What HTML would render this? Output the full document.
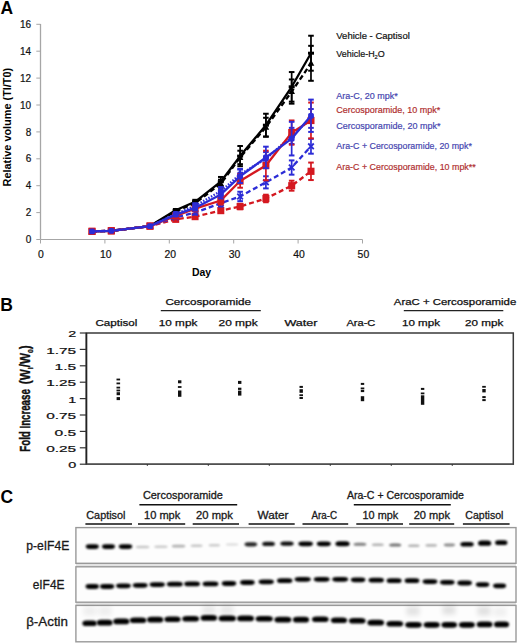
<!DOCTYPE html>
<html><head><meta charset="utf-8"><style>
html,body{margin:0;padding:0;background:#fff;}
svg{display:block;font-family:'Liberation Sans', sans-serif;}
</style></head><body>
<svg width="520" height="644" viewBox="0 0 520 644">
<rect width="520" height="644" fill="#fff"/>
<text x="0.6" y="13.6" font-size="17.5" font-weight="bold" fill="#000" textLength="12.6" lengthAdjust="spacingAndGlyphs">A</text>
<line x1="40.50" y1="24.00" x2="40.50" y2="239.50" stroke="#a6a6a6" stroke-width="1.3"/>
<line x1="40.50" y1="239.50" x2="362.50" y2="239.50" stroke="#a6a6a6" stroke-width="1.2"/>
<line x1="36.30" y1="239.50" x2="40.50" y2="239.50" stroke="#a6a6a6" stroke-width="1"/>
<text x="31.2" y="243.1" font-size="10" text-anchor="end" fill="#111" stroke="#111" stroke-width="0.2">0</text>
<line x1="36.30" y1="212.60" x2="40.50" y2="212.60" stroke="#a6a6a6" stroke-width="1"/>
<text x="31.2" y="216.2" font-size="10" text-anchor="end" fill="#111" stroke="#111" stroke-width="0.2">2</text>
<line x1="36.30" y1="185.70" x2="40.50" y2="185.70" stroke="#a6a6a6" stroke-width="1"/>
<text x="31.2" y="189.3" font-size="10" text-anchor="end" fill="#111" stroke="#111" stroke-width="0.2">4</text>
<line x1="36.30" y1="158.80" x2="40.50" y2="158.80" stroke="#a6a6a6" stroke-width="1"/>
<text x="31.2" y="162.4" font-size="10" text-anchor="end" fill="#111" stroke="#111" stroke-width="0.2">6</text>
<line x1="36.30" y1="131.90" x2="40.50" y2="131.90" stroke="#a6a6a6" stroke-width="1"/>
<text x="31.2" y="135.5" font-size="10" text-anchor="end" fill="#111" stroke="#111" stroke-width="0.2">8</text>
<line x1="36.30" y1="105.00" x2="40.50" y2="105.00" stroke="#a6a6a6" stroke-width="1"/>
<text x="31.2" y="108.6" font-size="10" text-anchor="end" fill="#111" stroke="#111" stroke-width="0.2">10</text>
<line x1="36.30" y1="78.10" x2="40.50" y2="78.10" stroke="#a6a6a6" stroke-width="1"/>
<text x="31.2" y="81.7" font-size="10" text-anchor="end" fill="#111" stroke="#111" stroke-width="0.2">12</text>
<line x1="36.30" y1="51.20" x2="40.50" y2="51.20" stroke="#a6a6a6" stroke-width="1"/>
<text x="31.2" y="54.8" font-size="10" text-anchor="end" fill="#111" stroke="#111" stroke-width="0.2">14</text>
<line x1="36.30" y1="24.30" x2="40.50" y2="24.30" stroke="#a6a6a6" stroke-width="1"/>
<text x="31.2" y="27.9" font-size="10" text-anchor="end" fill="#111" stroke="#111" stroke-width="0.2">16</text>
<line x1="40.50" y1="239.50" x2="40.50" y2="243.50" stroke="#a6a6a6" stroke-width="1"/>
<text x="40.8" y="257.8" font-size="10.4" text-anchor="middle" fill="#111" stroke="#111" stroke-width="0.2">0</text>
<line x1="104.90" y1="239.50" x2="104.90" y2="243.50" stroke="#a6a6a6" stroke-width="1"/>
<text x="105.8" y="257.8" font-size="10.4" text-anchor="middle" fill="#111" stroke="#111" stroke-width="0.2">10</text>
<line x1="169.30" y1="239.50" x2="169.30" y2="243.50" stroke="#a6a6a6" stroke-width="1"/>
<text x="170.2" y="257.8" font-size="10.4" text-anchor="middle" fill="#111" stroke="#111" stroke-width="0.2">20</text>
<line x1="233.70" y1="239.50" x2="233.70" y2="243.50" stroke="#a6a6a6" stroke-width="1"/>
<text x="234.6" y="257.8" font-size="10.4" text-anchor="middle" fill="#111" stroke="#111" stroke-width="0.2">30</text>
<line x1="298.10" y1="239.50" x2="298.10" y2="243.50" stroke="#a6a6a6" stroke-width="1"/>
<text x="299.0" y="257.8" font-size="10.4" text-anchor="middle" fill="#111" stroke="#111" stroke-width="0.2">40</text>
<line x1="362.50" y1="239.50" x2="362.50" y2="243.50" stroke="#a6a6a6" stroke-width="1"/>
<text x="363.4" y="257.8" font-size="10.4" text-anchor="middle" fill="#111" stroke="#111" stroke-width="0.2">50</text>
<text x="192.0" y="275.8" font-size="10.2" font-weight="bold" fill="#000" textLength="19.2" lengthAdjust="spacingAndGlyphs">Day</text>
<text transform="translate(10.6,186.4) rotate(-90)" font-size="10.6" font-weight="bold" textLength="118.6" lengthAdjust="spacingAndGlyphs">Relative volume (Tl/T0)</text>
<text x="336.3" y="38.7" font-size="9.3" fill="#111" textLength="73.5" lengthAdjust="spacingAndGlyphs" stroke="#111" stroke-width="0.2">Vehicle - Captisol</text>
<text x="336.3" y="56.5" font-size="9.3" fill="#111" stroke="#111" stroke-width="0.2" textLength="48.5" lengthAdjust="spacingAndGlyphs">Vehicle-H<tspan font-size="6" dy="2">2</tspan><tspan dy="-2">O</tspan></text>
<text x="336.3" y="99.4" font-size="9.3" fill="#4646b0" textLength="61.5" lengthAdjust="spacingAndGlyphs" stroke="#4646b0" stroke-width="0.2">Ara-C, 20 mpk*</text>
<text x="336.3" y="113.0" font-size="9.3" fill="#b03030" textLength="104.0" lengthAdjust="spacingAndGlyphs" stroke="#b03030" stroke-width="0.2">Cercosporamide, 10 mpk*</text>
<text x="336.3" y="129.1" font-size="9.3" fill="#4646b0" textLength="104.2" lengthAdjust="spacingAndGlyphs" stroke="#4646b0" stroke-width="0.2">Cercosporamide, 20 mpk*</text>
<text x="336.3" y="149.0" font-size="9.3" fill="#4646b0" textLength="135.6" lengthAdjust="spacingAndGlyphs" stroke="#4646b0" stroke-width="0.2">Ara-C + Cercosporamide, 20 mpk*</text>
<text x="336.3" y="170.1" font-size="9.3" fill="#b03030" textLength="139.4" lengthAdjust="spacingAndGlyphs" stroke="#b03030" stroke-width="0.2">Ara-C + Cercosporamide, 10 mpk**</text>
<polyline points="92.0,231.4 111.3,230.8 150.0,226.1 175.7,211.3 195.1,203.2 220.8,183.7 240.1,157.5 265.9,127.2 291.7,91.6 311.0,63.3" fill="none" stroke="#000" stroke-width="2.3" stroke-dasharray="5,3" stroke-linejoin="round"/>
<line x1="175.74" y1="209.91" x2="175.74" y2="212.60" stroke="#000" stroke-width="1.7"/>
<line x1="172.94" y1="209.91" x2="178.54" y2="209.91" stroke="#000" stroke-width="2.0"/>
<line x1="172.94" y1="212.60" x2="178.54" y2="212.60" stroke="#000" stroke-width="2.0"/>
<line x1="195.06" y1="201.17" x2="195.06" y2="205.20" stroke="#000" stroke-width="1.7"/>
<line x1="192.26" y1="201.17" x2="197.86" y2="201.17" stroke="#000" stroke-width="2.0"/>
<line x1="192.26" y1="205.20" x2="197.86" y2="205.20" stroke="#000" stroke-width="2.0"/>
<line x1="220.82" y1="179.65" x2="220.82" y2="187.72" stroke="#000" stroke-width="1.7"/>
<line x1="218.02" y1="179.65" x2="223.62" y2="179.65" stroke="#000" stroke-width="2.0"/>
<line x1="218.02" y1="187.72" x2="223.62" y2="187.72" stroke="#000" stroke-width="2.0"/>
<line x1="240.14" y1="150.73" x2="240.14" y2="164.18" stroke="#000" stroke-width="1.7"/>
<line x1="237.34" y1="150.73" x2="242.94" y2="150.73" stroke="#000" stroke-width="2.0"/>
<line x1="237.34" y1="164.18" x2="242.94" y2="164.18" stroke="#000" stroke-width="2.0"/>
<line x1="265.90" y1="117.78" x2="265.90" y2="136.61" stroke="#000" stroke-width="1.7"/>
<line x1="263.10" y1="117.78" x2="268.70" y2="117.78" stroke="#000" stroke-width="2.0"/>
<line x1="263.10" y1="136.61" x2="268.70" y2="136.61" stroke="#000" stroke-width="2.0"/>
<line x1="291.66" y1="79.44" x2="291.66" y2="103.66" stroke="#000" stroke-width="1.7"/>
<line x1="288.86" y1="79.44" x2="294.46" y2="79.44" stroke="#000" stroke-width="2.0"/>
<line x1="288.86" y1="103.66" x2="294.46" y2="103.66" stroke="#000" stroke-width="2.0"/>
<line x1="310.98" y1="45.82" x2="310.98" y2="80.79" stroke="#000" stroke-width="1.7"/>
<line x1="308.18" y1="45.82" x2="313.78" y2="45.82" stroke="#000" stroke-width="2.0"/>
<line x1="308.18" y1="80.79" x2="313.78" y2="80.79" stroke="#000" stroke-width="2.0"/>
<path d="M92.0,227.9L95.3,233.9L88.7,233.9Z" fill="#000"/>
<path d="M111.3,227.3L114.6,233.3L108.0,233.3Z" fill="#000"/>
<path d="M150.0,222.6L153.3,228.6L146.7,228.6Z" fill="#000"/>
<path d="M175.7,207.8L179.0,213.8L172.4,213.8Z" fill="#000"/>
<path d="M195.1,199.7L198.4,205.7L191.8,205.7Z" fill="#000"/>
<path d="M220.8,180.2L224.1,186.2L217.5,186.2Z" fill="#000"/>
<path d="M240.1,154.0L243.4,160.0L236.8,160.0Z" fill="#000"/>
<path d="M265.9,123.7L269.2,129.7L262.6,129.7Z" fill="#000"/>
<path d="M291.7,88.1L295.0,94.1L288.4,94.1Z" fill="#000"/>
<path d="M311.0,59.8L314.3,65.8L307.7,65.8Z" fill="#000"/>
<polyline points="92.0,231.4 111.3,230.8 150.0,226.1 175.7,210.3 195.1,201.8 220.8,181.7 240.1,156.1 265.9,125.2 291.7,86.8 311.0,53.2" fill="none" stroke="#000" stroke-width="2.3" stroke-linejoin="round"/>
<line x1="175.74" y1="208.97" x2="175.74" y2="211.66" stroke="#000" stroke-width="1.7"/>
<line x1="172.94" y1="208.97" x2="178.54" y2="208.97" stroke="#000" stroke-width="2.0"/>
<line x1="172.94" y1="211.66" x2="178.54" y2="211.66" stroke="#000" stroke-width="2.0"/>
<line x1="195.06" y1="199.82" x2="195.06" y2="203.86" stroke="#000" stroke-width="1.7"/>
<line x1="192.26" y1="199.82" x2="197.86" y2="199.82" stroke="#000" stroke-width="2.0"/>
<line x1="192.26" y1="203.86" x2="197.86" y2="203.86" stroke="#000" stroke-width="2.0"/>
<line x1="220.82" y1="176.96" x2="220.82" y2="186.37" stroke="#000" stroke-width="1.7"/>
<line x1="218.02" y1="176.96" x2="223.62" y2="176.96" stroke="#000" stroke-width="2.0"/>
<line x1="218.02" y1="186.37" x2="223.62" y2="186.37" stroke="#000" stroke-width="2.0"/>
<line x1="240.14" y1="146.02" x2="240.14" y2="166.20" stroke="#000" stroke-width="1.7"/>
<line x1="237.34" y1="146.02" x2="242.94" y2="146.02" stroke="#000" stroke-width="2.0"/>
<line x1="237.34" y1="166.20" x2="242.94" y2="166.20" stroke="#000" stroke-width="2.0"/>
<line x1="265.90" y1="113.74" x2="265.90" y2="136.61" stroke="#000" stroke-width="1.7"/>
<line x1="263.10" y1="113.74" x2="268.70" y2="113.74" stroke="#000" stroke-width="2.0"/>
<line x1="263.10" y1="136.61" x2="268.70" y2="136.61" stroke="#000" stroke-width="2.0"/>
<line x1="291.66" y1="72.05" x2="291.66" y2="101.64" stroke="#000" stroke-width="1.7"/>
<line x1="288.86" y1="72.05" x2="294.46" y2="72.05" stroke="#000" stroke-width="2.0"/>
<line x1="288.86" y1="101.64" x2="294.46" y2="101.64" stroke="#000" stroke-width="2.0"/>
<line x1="310.98" y1="35.73" x2="310.98" y2="70.70" stroke="#000" stroke-width="1.7"/>
<line x1="308.18" y1="35.73" x2="313.78" y2="35.73" stroke="#000" stroke-width="2.0"/>
<line x1="308.18" y1="70.70" x2="313.78" y2="70.70" stroke="#000" stroke-width="2.0"/>
<rect x="89.0" y="229.9" width="6" height="3" fill="#000"/>
<rect x="108.3" y="229.3" width="6" height="3" fill="#000"/>
<rect x="147.0" y="224.6" width="6" height="3" fill="#000"/>
<rect x="172.7" y="208.8" width="6" height="3" fill="#000"/>
<rect x="192.1" y="200.3" width="6" height="3" fill="#000"/>
<rect x="217.8" y="180.2" width="6" height="3" fill="#000"/>
<rect x="237.1" y="154.6" width="6" height="3" fill="#000"/>
<rect x="262.9" y="123.7" width="6" height="3" fill="#000"/>
<rect x="288.7" y="85.3" width="6" height="3" fill="#000"/>
<rect x="308.0" y="51.7" width="6" height="3" fill="#000"/>
<polyline points="92.0,231.4 111.3,230.8 150.0,226.1 175.7,219.3 195.1,216.6 220.8,210.6 240.1,206.5 265.9,198.5 291.7,185.7 311.0,171.3" fill="none" stroke="#d41820" stroke-width="2.3" stroke-dasharray="5,3" stroke-linejoin="round"/>
<line x1="175.74" y1="217.98" x2="175.74" y2="220.67" stroke="#d41820" stroke-width="1.7"/>
<line x1="172.94" y1="217.98" x2="178.54" y2="217.98" stroke="#d41820" stroke-width="2.0"/>
<line x1="172.94" y1="220.67" x2="178.54" y2="220.67" stroke="#d41820" stroke-width="2.0"/>
<line x1="195.06" y1="215.29" x2="195.06" y2="217.98" stroke="#d41820" stroke-width="1.7"/>
<line x1="192.26" y1="215.29" x2="197.86" y2="215.29" stroke="#d41820" stroke-width="2.0"/>
<line x1="192.26" y1="217.98" x2="197.86" y2="217.98" stroke="#d41820" stroke-width="2.0"/>
<line x1="220.82" y1="208.56" x2="220.82" y2="212.60" stroke="#d41820" stroke-width="1.7"/>
<line x1="218.02" y1="208.56" x2="223.62" y2="208.56" stroke="#d41820" stroke-width="2.0"/>
<line x1="218.02" y1="212.60" x2="223.62" y2="212.60" stroke="#d41820" stroke-width="2.0"/>
<line x1="240.14" y1="203.86" x2="240.14" y2="209.24" stroke="#d41820" stroke-width="1.7"/>
<line x1="237.34" y1="203.86" x2="242.94" y2="203.86" stroke="#d41820" stroke-width="2.0"/>
<line x1="237.34" y1="209.24" x2="242.94" y2="209.24" stroke="#d41820" stroke-width="2.0"/>
<line x1="265.90" y1="194.71" x2="265.90" y2="202.24" stroke="#d41820" stroke-width="1.7"/>
<line x1="263.10" y1="194.71" x2="268.70" y2="194.71" stroke="#d41820" stroke-width="2.0"/>
<line x1="263.10" y1="202.24" x2="268.70" y2="202.24" stroke="#d41820" stroke-width="2.0"/>
<line x1="291.66" y1="180.72" x2="291.66" y2="190.68" stroke="#d41820" stroke-width="1.7"/>
<line x1="288.86" y1="180.72" x2="294.46" y2="180.72" stroke="#d41820" stroke-width="2.0"/>
<line x1="288.86" y1="190.68" x2="294.46" y2="190.68" stroke="#d41820" stroke-width="2.0"/>
<line x1="310.98" y1="162.57" x2="310.98" y2="180.05" stroke="#d41820" stroke-width="1.7"/>
<line x1="308.18" y1="162.57" x2="313.78" y2="162.57" stroke="#d41820" stroke-width="2.0"/>
<line x1="308.18" y1="180.05" x2="313.78" y2="180.05" stroke="#d41820" stroke-width="2.0"/>
<rect x="88.5" y="227.8" width="7" height="7.2" fill="#d41820"/>
<rect x="107.8" y="227.2" width="7" height="7.2" fill="#d41820"/>
<rect x="146.5" y="222.5" width="7" height="7.2" fill="#d41820"/>
<rect x="172.2" y="215.7" width="7" height="7.2" fill="#d41820"/>
<rect x="191.6" y="213.0" width="7" height="7.2" fill="#d41820"/>
<rect x="217.3" y="207.0" width="7" height="7.2" fill="#d41820"/>
<rect x="236.6" y="202.9" width="7" height="7.2" fill="#d41820"/>
<rect x="262.4" y="194.9" width="7" height="7.2" fill="#d41820"/>
<rect x="288.2" y="182.1" width="7" height="7.2" fill="#d41820"/>
<rect x="307.5" y="167.7" width="7" height="7.2" fill="#d41820"/>
<polyline points="92.0,231.4 111.3,230.8 150.0,226.1 175.7,217.3 195.1,212.6 220.8,203.2 240.1,196.5 265.9,182.3 291.7,167.5 311.0,146.3" fill="none" stroke="#2c2cd6" stroke-width="2.3" stroke-dasharray="5,3" stroke-linejoin="round"/>
<line x1="175.74" y1="215.96" x2="175.74" y2="218.65" stroke="#2c2cd6" stroke-width="1.7"/>
<line x1="172.94" y1="215.96" x2="178.54" y2="215.96" stroke="#2c2cd6" stroke-width="2.0"/>
<line x1="172.94" y1="218.65" x2="178.54" y2="218.65" stroke="#2c2cd6" stroke-width="2.0"/>
<line x1="195.06" y1="210.58" x2="195.06" y2="214.62" stroke="#2c2cd6" stroke-width="1.7"/>
<line x1="192.26" y1="210.58" x2="197.86" y2="210.58" stroke="#2c2cd6" stroke-width="2.0"/>
<line x1="192.26" y1="214.62" x2="197.86" y2="214.62" stroke="#2c2cd6" stroke-width="2.0"/>
<line x1="220.82" y1="199.82" x2="220.82" y2="206.55" stroke="#2c2cd6" stroke-width="1.7"/>
<line x1="218.02" y1="199.82" x2="223.62" y2="199.82" stroke="#2c2cd6" stroke-width="2.0"/>
<line x1="218.02" y1="206.55" x2="223.62" y2="206.55" stroke="#2c2cd6" stroke-width="2.0"/>
<line x1="240.14" y1="191.75" x2="240.14" y2="201.17" stroke="#2c2cd6" stroke-width="1.7"/>
<line x1="237.34" y1="191.75" x2="242.94" y2="191.75" stroke="#2c2cd6" stroke-width="2.0"/>
<line x1="237.34" y1="201.17" x2="242.94" y2="201.17" stroke="#2c2cd6" stroke-width="2.0"/>
<line x1="265.90" y1="176.28" x2="265.90" y2="188.39" stroke="#2c2cd6" stroke-width="1.7"/>
<line x1="263.10" y1="176.28" x2="268.70" y2="176.28" stroke="#2c2cd6" stroke-width="2.0"/>
<line x1="263.10" y1="188.39" x2="268.70" y2="188.39" stroke="#2c2cd6" stroke-width="2.0"/>
<line x1="291.66" y1="160.41" x2="291.66" y2="174.67" stroke="#2c2cd6" stroke-width="1.7"/>
<line x1="288.86" y1="160.41" x2="294.46" y2="160.41" stroke="#2c2cd6" stroke-width="2.0"/>
<line x1="288.86" y1="174.67" x2="294.46" y2="174.67" stroke="#2c2cd6" stroke-width="2.0"/>
<line x1="310.98" y1="138.89" x2="310.98" y2="153.69" stroke="#2c2cd6" stroke-width="1.7"/>
<line x1="308.18" y1="138.89" x2="313.78" y2="138.89" stroke="#2c2cd6" stroke-width="2.0"/>
<line x1="308.18" y1="153.69" x2="313.78" y2="153.69" stroke="#2c2cd6" stroke-width="2.0"/>
<path d="M89.2,228.6L94.8,234.2M89.2,234.2L94.8,228.6" stroke="#2c2cd6" stroke-width="1.8"/>
<path d="M108.5,228.0L114.1,233.6M108.5,233.6L114.1,228.0" stroke="#2c2cd6" stroke-width="1.8"/>
<path d="M147.2,223.2L152.8,228.9M147.2,228.9L152.8,223.2" stroke="#2c2cd6" stroke-width="1.8"/>
<path d="M172.9,214.5L178.5,220.1M172.9,220.1L178.5,214.5" stroke="#2c2cd6" stroke-width="1.8"/>
<path d="M192.3,209.8L197.9,215.4M192.3,215.4L197.9,209.8" stroke="#2c2cd6" stroke-width="1.8"/>
<path d="M218.0,200.4L223.6,206.0M218.0,206.0L223.6,200.4" stroke="#2c2cd6" stroke-width="1.8"/>
<path d="M237.3,193.7L242.9,199.3M237.3,199.3L242.9,193.7" stroke="#2c2cd6" stroke-width="1.8"/>
<path d="M263.1,179.5L268.7,185.1M263.1,185.1L268.7,179.5" stroke="#2c2cd6" stroke-width="1.8"/>
<path d="M288.9,164.7L294.5,170.3M288.9,170.3L294.5,164.7" stroke="#2c2cd6" stroke-width="1.8"/>
<path d="M308.2,143.5L313.8,149.1M308.2,149.1L313.8,143.5" stroke="#2c2cd6" stroke-width="1.8"/>
<polyline points="92.0,231.4 111.3,230.8 150.0,226.1 175.7,213.9 195.1,205.9 220.8,191.1 240.1,174.3 265.9,158.8 291.7,135.9 311.0,118.5" fill="none" stroke="#2c2cd6" stroke-width="2.3" stroke-dasharray="1.5,1.5" stroke-linejoin="round"/>
<line x1="175.74" y1="212.60" x2="175.74" y2="215.29" stroke="#2c2cd6" stroke-width="1.7"/>
<line x1="172.94" y1="212.60" x2="178.54" y2="212.60" stroke="#2c2cd6" stroke-width="2.0"/>
<line x1="172.94" y1="215.29" x2="178.54" y2="215.29" stroke="#2c2cd6" stroke-width="2.0"/>
<line x1="195.06" y1="203.19" x2="195.06" y2="208.56" stroke="#2c2cd6" stroke-width="1.7"/>
<line x1="192.26" y1="203.19" x2="197.86" y2="203.19" stroke="#2c2cd6" stroke-width="2.0"/>
<line x1="192.26" y1="208.56" x2="197.86" y2="208.56" stroke="#2c2cd6" stroke-width="2.0"/>
<line x1="220.82" y1="187.05" x2="220.82" y2="195.12" stroke="#2c2cd6" stroke-width="1.7"/>
<line x1="218.02" y1="187.05" x2="223.62" y2="187.05" stroke="#2c2cd6" stroke-width="2.0"/>
<line x1="218.02" y1="195.12" x2="223.62" y2="195.12" stroke="#2c2cd6" stroke-width="2.0"/>
<line x1="240.14" y1="168.89" x2="240.14" y2="179.65" stroke="#2c2cd6" stroke-width="1.7"/>
<line x1="237.34" y1="168.89" x2="242.94" y2="168.89" stroke="#2c2cd6" stroke-width="2.0"/>
<line x1="237.34" y1="179.65" x2="242.94" y2="179.65" stroke="#2c2cd6" stroke-width="2.0"/>
<line x1="265.90" y1="152.07" x2="265.90" y2="165.53" stroke="#2c2cd6" stroke-width="1.7"/>
<line x1="263.10" y1="152.07" x2="268.70" y2="152.07" stroke="#2c2cd6" stroke-width="2.0"/>
<line x1="263.10" y1="165.53" x2="268.70" y2="165.53" stroke="#2c2cd6" stroke-width="2.0"/>
<line x1="291.66" y1="127.86" x2="291.66" y2="144.00" stroke="#2c2cd6" stroke-width="1.7"/>
<line x1="288.86" y1="127.86" x2="294.46" y2="127.86" stroke="#2c2cd6" stroke-width="2.0"/>
<line x1="288.86" y1="144.00" x2="294.46" y2="144.00" stroke="#2c2cd6" stroke-width="2.0"/>
<line x1="310.98" y1="109.04" x2="310.98" y2="127.86" stroke="#2c2cd6" stroke-width="1.7"/>
<line x1="308.18" y1="109.04" x2="313.78" y2="109.04" stroke="#2c2cd6" stroke-width="2.0"/>
<line x1="308.18" y1="127.86" x2="313.78" y2="127.86" stroke="#2c2cd6" stroke-width="2.0"/>
<rect x="89.1" y="228.5" width="5.8" height="5.8" rx="1.6" fill="#2c2cd6"/>
<rect x="108.4" y="227.9" width="5.8" height="5.8" rx="1.6" fill="#2c2cd6"/>
<rect x="147.1" y="223.2" width="5.8" height="5.8" rx="1.6" fill="#2c2cd6"/>
<rect x="172.8" y="211.0" width="5.8" height="5.8" rx="1.6" fill="#2c2cd6"/>
<rect x="192.2" y="203.0" width="5.8" height="5.8" rx="1.6" fill="#2c2cd6"/>
<rect x="217.9" y="188.2" width="5.8" height="5.8" rx="1.6" fill="#2c2cd6"/>
<rect x="237.2" y="171.4" width="5.8" height="5.8" rx="1.6" fill="#2c2cd6"/>
<rect x="263.0" y="155.9" width="5.8" height="5.8" rx="1.6" fill="#2c2cd6"/>
<rect x="288.8" y="133.0" width="5.8" height="5.8" rx="1.6" fill="#2c2cd6"/>
<rect x="308.1" y="115.5" width="5.8" height="5.8" rx="1.6" fill="#2c2cd6"/>
<polyline points="92.0,231.4 111.3,230.8 150.0,226.1 175.7,216.0 195.1,208.6 220.8,200.5 240.1,181.0 265.9,165.5 291.7,132.6 311.0,120.5" fill="none" stroke="#d41820" stroke-width="2.3" stroke-linejoin="round"/>
<line x1="175.74" y1="214.62" x2="175.74" y2="217.31" stroke="#d41820" stroke-width="1.7"/>
<line x1="172.94" y1="214.62" x2="178.54" y2="214.62" stroke="#d41820" stroke-width="2.0"/>
<line x1="172.94" y1="217.31" x2="178.54" y2="217.31" stroke="#d41820" stroke-width="2.0"/>
<line x1="195.06" y1="205.88" x2="195.06" y2="211.25" stroke="#d41820" stroke-width="1.7"/>
<line x1="192.26" y1="205.88" x2="197.86" y2="205.88" stroke="#d41820" stroke-width="2.0"/>
<line x1="192.26" y1="211.25" x2="197.86" y2="211.25" stroke="#d41820" stroke-width="2.0"/>
<line x1="220.82" y1="196.46" x2="220.82" y2="204.53" stroke="#d41820" stroke-width="1.7"/>
<line x1="218.02" y1="196.46" x2="223.62" y2="196.46" stroke="#d41820" stroke-width="2.0"/>
<line x1="218.02" y1="204.53" x2="223.62" y2="204.53" stroke="#d41820" stroke-width="2.0"/>
<line x1="240.14" y1="174.27" x2="240.14" y2="187.72" stroke="#d41820" stroke-width="1.7"/>
<line x1="237.34" y1="174.27" x2="242.94" y2="174.27" stroke="#d41820" stroke-width="2.0"/>
<line x1="237.34" y1="187.72" x2="242.94" y2="187.72" stroke="#d41820" stroke-width="2.0"/>
<line x1="265.90" y1="150.73" x2="265.90" y2="180.32" stroke="#d41820" stroke-width="1.7"/>
<line x1="263.10" y1="150.73" x2="268.70" y2="150.73" stroke="#d41820" stroke-width="2.0"/>
<line x1="263.10" y1="180.32" x2="268.70" y2="180.32" stroke="#d41820" stroke-width="2.0"/>
<line x1="291.66" y1="120.47" x2="291.66" y2="144.68" stroke="#d41820" stroke-width="1.7"/>
<line x1="288.86" y1="120.47" x2="294.46" y2="120.47" stroke="#d41820" stroke-width="2.0"/>
<line x1="288.86" y1="144.68" x2="294.46" y2="144.68" stroke="#d41820" stroke-width="2.0"/>
<line x1="310.98" y1="102.58" x2="310.98" y2="138.36" stroke="#d41820" stroke-width="1.7"/>
<line x1="308.18" y1="102.58" x2="313.78" y2="102.58" stroke="#d41820" stroke-width="2.0"/>
<line x1="308.18" y1="138.36" x2="313.78" y2="138.36" stroke="#d41820" stroke-width="2.0"/>
<rect x="88.5" y="227.8" width="7" height="7.2" fill="#d41820"/>
<rect x="107.8" y="227.2" width="7" height="7.2" fill="#d41820"/>
<rect x="146.5" y="222.5" width="7" height="7.2" fill="#d41820"/>
<rect x="172.2" y="212.4" width="7" height="7.2" fill="#d41820"/>
<rect x="191.6" y="205.0" width="7" height="7.2" fill="#d41820"/>
<rect x="217.3" y="196.9" width="7" height="7.2" fill="#d41820"/>
<rect x="236.6" y="177.4" width="7" height="7.2" fill="#d41820"/>
<rect x="262.4" y="161.9" width="7" height="7.2" fill="#d41820"/>
<rect x="288.2" y="129.0" width="7" height="7.2" fill="#d41820"/>
<rect x="307.5" y="116.9" width="7" height="7.2" fill="#d41820"/>
<polyline points="92.0,231.4 111.3,230.8 150.0,226.1 175.7,214.6 195.1,207.9 220.8,194.4 240.1,176.3 265.9,157.5 291.7,138.6 311.0,115.8" fill="none" stroke="#2c2cd6" stroke-width="2.3" stroke-linejoin="round"/>
<line x1="175.74" y1="213.27" x2="175.74" y2="215.96" stroke="#2c2cd6" stroke-width="1.7"/>
<line x1="172.94" y1="213.27" x2="178.54" y2="213.27" stroke="#2c2cd6" stroke-width="2.0"/>
<line x1="172.94" y1="215.96" x2="178.54" y2="215.96" stroke="#2c2cd6" stroke-width="2.0"/>
<line x1="195.06" y1="205.20" x2="195.06" y2="210.58" stroke="#2c2cd6" stroke-width="1.7"/>
<line x1="192.26" y1="205.20" x2="197.86" y2="205.20" stroke="#2c2cd6" stroke-width="2.0"/>
<line x1="192.26" y1="210.58" x2="197.86" y2="210.58" stroke="#2c2cd6" stroke-width="2.0"/>
<line x1="220.82" y1="190.41" x2="220.82" y2="198.48" stroke="#2c2cd6" stroke-width="1.7"/>
<line x1="218.02" y1="190.41" x2="223.62" y2="190.41" stroke="#2c2cd6" stroke-width="2.0"/>
<line x1="218.02" y1="198.48" x2="223.62" y2="198.48" stroke="#2c2cd6" stroke-width="2.0"/>
<line x1="240.14" y1="169.56" x2="240.14" y2="183.01" stroke="#2c2cd6" stroke-width="1.7"/>
<line x1="237.34" y1="169.56" x2="242.94" y2="169.56" stroke="#2c2cd6" stroke-width="2.0"/>
<line x1="237.34" y1="183.01" x2="242.94" y2="183.01" stroke="#2c2cd6" stroke-width="2.0"/>
<line x1="265.90" y1="146.69" x2="265.90" y2="168.22" stroke="#2c2cd6" stroke-width="1.7"/>
<line x1="263.10" y1="146.69" x2="268.70" y2="146.69" stroke="#2c2cd6" stroke-width="2.0"/>
<line x1="263.10" y1="168.22" x2="268.70" y2="168.22" stroke="#2c2cd6" stroke-width="2.0"/>
<line x1="291.66" y1="121.81" x2="291.66" y2="155.44" stroke="#2c2cd6" stroke-width="1.7"/>
<line x1="288.86" y1="121.81" x2="294.46" y2="121.81" stroke="#2c2cd6" stroke-width="2.0"/>
<line x1="288.86" y1="155.44" x2="294.46" y2="155.44" stroke="#2c2cd6" stroke-width="2.0"/>
<line x1="310.98" y1="99.62" x2="310.98" y2="131.90" stroke="#2c2cd6" stroke-width="1.7"/>
<line x1="308.18" y1="99.62" x2="313.78" y2="99.62" stroke="#2c2cd6" stroke-width="2.0"/>
<line x1="308.18" y1="131.90" x2="313.78" y2="131.90" stroke="#2c2cd6" stroke-width="2.0"/>
<rect x="89.1" y="228.5" width="5.8" height="5.8" rx="1.6" fill="#2c2cd6"/>
<rect x="108.4" y="227.9" width="5.8" height="5.8" rx="1.6" fill="#2c2cd6"/>
<rect x="147.1" y="223.2" width="5.8" height="5.8" rx="1.6" fill="#2c2cd6"/>
<rect x="172.8" y="211.7" width="5.8" height="5.8" rx="1.6" fill="#2c2cd6"/>
<rect x="192.2" y="205.0" width="5.8" height="5.8" rx="1.6" fill="#2c2cd6"/>
<rect x="217.9" y="191.5" width="5.8" height="5.8" rx="1.6" fill="#2c2cd6"/>
<rect x="237.2" y="173.4" width="5.8" height="5.8" rx="1.6" fill="#2c2cd6"/>
<rect x="263.0" y="154.6" width="5.8" height="5.8" rx="1.6" fill="#2c2cd6"/>
<rect x="288.8" y="135.7" width="5.8" height="5.8" rx="1.6" fill="#2c2cd6"/>
<rect x="308.1" y="112.9" width="5.8" height="5.8" rx="1.6" fill="#2c2cd6"/>
<text x="0.3" y="310.8" font-size="17.5" font-weight="bold" fill="#000">B</text>
<rect x="86.4" y="333.0" width="426.9" height="131.2" fill="none" stroke="#3a3a3a" stroke-width="1.5"/>
<line x1="86.40" y1="333.00" x2="86.40" y2="464.20" stroke="#222" stroke-width="1.6"/>
<line x1="86.40" y1="464.20" x2="513.30" y2="464.20" stroke="#555" stroke-width="1.2"/>
<line x1="79.80" y1="464.20" x2="86.40" y2="464.20" stroke="#333" stroke-width="1.2"/>
<text x="76.2" y="468.4" font-size="8.7" text-anchor="end" fill="#111" textLength="8.0" lengthAdjust="spacingAndGlyphs" stroke="#111" stroke-width="0.2">0</text>
<line x1="79.80" y1="447.80" x2="86.40" y2="447.80" stroke="#333" stroke-width="1.2"/>
<text x="76.2" y="452.0" font-size="8.7" text-anchor="end" fill="#111" textLength="30.0" lengthAdjust="spacingAndGlyphs" stroke="#111" stroke-width="0.2">0.25</text>
<line x1="79.80" y1="431.40" x2="86.40" y2="431.40" stroke="#333" stroke-width="1.2"/>
<text x="76.2" y="435.6" font-size="8.7" text-anchor="end" fill="#111" textLength="21.6" lengthAdjust="spacingAndGlyphs" stroke="#111" stroke-width="0.2">0.5</text>
<line x1="79.80" y1="415.00" x2="86.40" y2="415.00" stroke="#333" stroke-width="1.2"/>
<text x="76.2" y="419.2" font-size="8.7" text-anchor="end" fill="#111" textLength="30.0" lengthAdjust="spacingAndGlyphs" stroke="#111" stroke-width="0.2">0.75</text>
<line x1="79.80" y1="398.60" x2="86.40" y2="398.60" stroke="#333" stroke-width="1.2"/>
<text x="76.2" y="402.8" font-size="8.7" text-anchor="end" fill="#111" textLength="8.0" lengthAdjust="spacingAndGlyphs" stroke="#111" stroke-width="0.2">1</text>
<line x1="79.80" y1="382.20" x2="86.40" y2="382.20" stroke="#333" stroke-width="1.2"/>
<text x="76.2" y="386.4" font-size="8.7" text-anchor="end" fill="#111" textLength="30.0" lengthAdjust="spacingAndGlyphs" stroke="#111" stroke-width="0.2">1.25</text>
<line x1="79.80" y1="365.80" x2="86.40" y2="365.80" stroke="#333" stroke-width="1.2"/>
<text x="76.2" y="370.0" font-size="8.7" text-anchor="end" fill="#111" textLength="21.6" lengthAdjust="spacingAndGlyphs" stroke="#111" stroke-width="0.2">1.5</text>
<line x1="79.80" y1="349.40" x2="86.40" y2="349.40" stroke="#333" stroke-width="1.2"/>
<text x="76.2" y="353.6" font-size="8.7" text-anchor="end" fill="#111" textLength="30.0" lengthAdjust="spacingAndGlyphs" stroke="#111" stroke-width="0.2">1.75</text>
<line x1="79.80" y1="333.00" x2="86.40" y2="333.00" stroke="#333" stroke-width="1.2"/>
<text x="76.2" y="337.2" font-size="8.7" text-anchor="end" fill="#111" textLength="8.0" lengthAdjust="spacingAndGlyphs" stroke="#111" stroke-width="0.2">2</text>
<line x1="147.39" y1="464.20" x2="147.39" y2="465.80" stroke="#333" stroke-width="1.2"/>
<line x1="208.37" y1="464.20" x2="208.37" y2="465.80" stroke="#333" stroke-width="1.2"/>
<line x1="269.36" y1="464.20" x2="269.36" y2="465.80" stroke="#333" stroke-width="1.2"/>
<line x1="330.34" y1="464.20" x2="330.34" y2="465.80" stroke="#333" stroke-width="1.2"/>
<line x1="391.33" y1="464.20" x2="391.33" y2="465.80" stroke="#333" stroke-width="1.2"/>
<line x1="452.31" y1="464.20" x2="452.31" y2="465.80" stroke="#333" stroke-width="1.2"/>
<text transform="translate(30.2,451.7) rotate(-90)" font-size="14" font-weight="bold" fill="#111" stroke="#111" stroke-width="0.45" textLength="62.5" lengthAdjust="spacingAndGlyphs">Fold Increase</text>
<text transform="translate(30.2,384.2) rotate(-90)" font-size="14" font-weight="bold" fill="#111" stroke="#111" stroke-width="0.3" textLength="39" lengthAdjust="spacingAndGlyphs">(W<tspan font-size="8" dy="2.5">i</tspan><tspan dy="-2.5">/W</tspan><tspan font-size="8" dy="2.5">0</tspan><tspan dy="-2.5">)</tspan></text>
<text x="95.4" y="325.8" font-size="8.9" fill="#111" textLength="42.0" lengthAdjust="spacingAndGlyphs" stroke="#111" stroke-width="0.25">Captisol</text>
<text x="158.8" y="325.8" font-size="8.9" fill="#111" textLength="38.5" lengthAdjust="spacingAndGlyphs" stroke="#111" stroke-width="0.25">10 mpk</text>
<text x="218.5" y="325.8" font-size="8.9" fill="#111" textLength="39.2" lengthAdjust="spacingAndGlyphs" stroke="#111" stroke-width="0.25">20 mpk</text>
<text x="165.4" y="305.3" font-size="8.9" fill="#111" textLength="85.6" lengthAdjust="spacingAndGlyphs" stroke="#111" stroke-width="0.25">Cercosporamide</text>
<line x1="160.80" y1="310.60" x2="260.80" y2="310.60" stroke="#222" stroke-width="1.3"/>
<text x="284.4" y="325.6" font-size="8.9" fill="#111" textLength="33.0" lengthAdjust="spacingAndGlyphs" stroke="#111" stroke-width="0.25">Water</text>
<text x="346.4" y="325.6" font-size="8.9" fill="#111" textLength="29.0" lengthAdjust="spacingAndGlyphs" stroke="#111" stroke-width="0.25">Ara-C</text>
<text x="393.8" y="305.3" font-size="8.9" fill="#111" textLength="122.5" lengthAdjust="spacingAndGlyphs" stroke="#111" stroke-width="0.25">AraC + Cercosporamide</text>
<line x1="403.80" y1="310.70" x2="503.30" y2="310.70" stroke="#222" stroke-width="1.3"/>
<text x="402.0" y="325.6" font-size="8.9" fill="#111" textLength="38.0" lengthAdjust="spacingAndGlyphs" stroke="#111" stroke-width="0.25">10 mpk</text>
<text x="465.0" y="325.6" font-size="8.9" fill="#111" textLength="38.3" lengthAdjust="spacingAndGlyphs" stroke="#111" stroke-width="0.25">20 mpk</text>
<rect x="116.5" y="378.6" width="3.6" height="1.8" fill="#111"/>
<rect x="116.5" y="382.5" width="3.6" height="1.8" fill="#111"/>
<rect x="116.5" y="386.7" width="3.6" height="1.8" fill="#111"/>
<rect x="116.5" y="389.6" width="3.6" height="1.8" fill="#111"/>
<rect x="116.6" y="392.2" width="3.4" height="3.0" fill="#111"/>
<rect x="116.6" y="397.1" width="3.4" height="3.0" fill="#111"/>
<rect x="178.0" y="380.3" width="3.4" height="3.0" fill="#111"/>
<rect x="177.9" y="386.1" width="3.6" height="1.8" fill="#111"/>
<rect x="178.0" y="390.5" width="3.4" height="6.3" fill="#111"/>
<rect x="238.0" y="380.9" width="3.4" height="3.0" fill="#111"/>
<rect x="238.0" y="387.7" width="3.4" height="2.2" fill="#111"/>
<rect x="238.0" y="390.6" width="3.4" height="5.0" fill="#111"/>
<rect x="299.5" y="385.9" width="3.4" height="2.0" fill="#111"/>
<rect x="299.5" y="389.2" width="3.4" height="3.6" fill="#111"/>
<rect x="299.4" y="394.3" width="3.6" height="1.8" fill="#111"/>
<rect x="299.5" y="397.0" width="3.4" height="2.0" fill="#111"/>
<rect x="360.8" y="382.9" width="3.4" height="2.0" fill="#111"/>
<rect x="360.7" y="387.5" width="3.6" height="1.8" fill="#111"/>
<rect x="360.8" y="389.9" width="3.4" height="2.2" fill="#111"/>
<rect x="360.8" y="396.2" width="3.4" height="5.0" fill="#111"/>
<rect x="420.9" y="387.9" width="3.4" height="2.0" fill="#111"/>
<rect x="420.8" y="392.5" width="3.6" height="1.8" fill="#111"/>
<rect x="420.9" y="395.3" width="3.4" height="9.5" fill="#111"/>
<rect x="482.2" y="385.9" width="3.6" height="1.8" fill="#111"/>
<rect x="482.3" y="389.0" width="3.4" height="3.4" fill="#111"/>
<rect x="482.3" y="396.1" width="3.4" height="2.0" fill="#111"/>
<rect x="482.3" y="399.1" width="3.4" height="2.0" fill="#111"/>
<text x="0.5" y="502.8" font-size="17.5" font-weight="bold" fill="#000">C</text>
<text x="142.9" y="499.4" font-size="10.8" fill="#1a1a1a" textLength="80.0" lengthAdjust="spacingAndGlyphs" stroke="#1a1a1a" stroke-width="0.3">Cercosporamide</text>
<line x1="139.40" y1="504.70" x2="237.20" y2="504.70" stroke="#111" stroke-width="1.6"/>
<text x="346.9" y="499.4" font-size="10.8" fill="#1a1a1a" textLength="117.0" lengthAdjust="spacingAndGlyphs" stroke="#1a1a1a" stroke-width="0.3">Ara-C + Cercosporamide</text>
<line x1="353.80" y1="504.70" x2="450.80" y2="504.70" stroke="#111" stroke-width="1.6"/>
<text x="86.3" y="518.6" font-size="10.6" fill="#1a1a1a" textLength="39.1" lengthAdjust="spacingAndGlyphs" stroke="#1a1a1a" stroke-width="0.3">Captisol</text>
<line x1="85.40" y1="524.00" x2="132.00" y2="524.00" stroke="#111" stroke-width="1.6"/>
<text x="144.0" y="518.6" font-size="10.6" fill="#1a1a1a" textLength="36.3" lengthAdjust="spacingAndGlyphs" stroke="#1a1a1a" stroke-width="0.3">10 mpk</text>
<line x1="138.00" y1="524.00" x2="185.20" y2="524.00" stroke="#111" stroke-width="1.6"/>
<text x="196.0" y="518.6" font-size="10.6" fill="#1a1a1a" textLength="36.9" lengthAdjust="spacingAndGlyphs" stroke="#1a1a1a" stroke-width="0.3">20 mpk</text>
<line x1="192.70" y1="524.00" x2="239.00" y2="524.00" stroke="#111" stroke-width="1.6"/>
<text x="257.5" y="518.6" font-size="10.6" fill="#1a1a1a" textLength="31.0" lengthAdjust="spacingAndGlyphs" stroke="#1a1a1a" stroke-width="0.3">Water</text>
<line x1="248.60" y1="524.00" x2="294.70" y2="524.00" stroke="#111" stroke-width="1.6"/>
<text x="311.4" y="518.6" font-size="10.6" fill="#1a1a1a" textLength="25.6" lengthAdjust="spacingAndGlyphs" stroke="#1a1a1a" stroke-width="0.3">Ara-C</text>
<line x1="302.50" y1="524.00" x2="348.20" y2="524.00" stroke="#111" stroke-width="1.6"/>
<text x="362.5" y="518.6" font-size="10.6" fill="#1a1a1a" textLength="35.7" lengthAdjust="spacingAndGlyphs" stroke="#1a1a1a" stroke-width="0.3">10 mpk</text>
<line x1="356.30" y1="524.00" x2="403.00" y2="524.00" stroke="#111" stroke-width="1.6"/>
<text x="413.7" y="518.6" font-size="10.6" fill="#1a1a1a" textLength="36.3" lengthAdjust="spacingAndGlyphs" stroke="#1a1a1a" stroke-width="0.3">20 mpk</text>
<line x1="409.20" y1="524.00" x2="454.20" y2="524.00" stroke="#111" stroke-width="1.6"/>
<text x="465.3" y="518.6" font-size="10.6" fill="#1a1a1a" textLength="38.1" lengthAdjust="spacingAndGlyphs" stroke="#1a1a1a" stroke-width="0.3">Captisol</text>
<line x1="462.90" y1="524.00" x2="509.60" y2="524.00" stroke="#111" stroke-width="1.6"/>
<text x="26.2" y="550.3" font-size="12.8" fill="#1a1a1a" textLength="43.1" lengthAdjust="spacingAndGlyphs" stroke="#1a1a1a" stroke-width="0.3">p-eIF4E</text>
<text x="32.7" y="589.4" font-size="12.8" fill="#1a1a1a" textLength="31.8" lengthAdjust="spacingAndGlyphs" stroke="#1a1a1a" stroke-width="0.3">eIF4E</text>
<text x="26.2" y="625.6" font-size="12.8" fill="#1a1a1a" textLength="41.8" lengthAdjust="spacingAndGlyphs" stroke="#1a1a1a" stroke-width="0.3">&#946;-Actin</text>
<defs><filter id="bl" x="-30%" y="-100%" width="160%" height="300%"><feGaussianBlur stdDeviation="0.9 0.8"/></filter><filter id="bl2" x="-50%" y="-100%" width="200%" height="300%"><feGaussianBlur stdDeviation="2.5 2.5"/></filter></defs>
<rect x="75.9" y="563.3" width="440.1" height="3.5" fill="#e2e2e2"/>
<rect x="75.9" y="602.2" width="440.1" height="3.2" fill="#e2e2e2"/>
<rect x="75.9" y="527.6" width="440.1" height="35.7" fill="#fdfdfd" stroke="#999" stroke-width="1.4"/>
<rect x="75.9" y="566.8" width="440.1" height="35.4" fill="#fdfdfd" stroke="#999" stroke-width="1.4"/>
<rect x="75.9" y="605.4" width="440.1" height="36.4" fill="#fdfdfd" stroke="#999" stroke-width="1.4"/>
<rect x="83.5" y="606.5" width="13" height="9" fill="#000" opacity="0.06" filter="url(#bl2)"/>
<rect x="98.5" y="606.5" width="13" height="9" fill="#000" opacity="0.06" filter="url(#bl2)"/>
<rect x="202.5" y="605.5" width="13" height="9" fill="#000" opacity="0.08" filter="url(#bl2)"/>
<rect x="220.5" y="605.5" width="13" height="9" fill="#000" opacity="0.08" filter="url(#bl2)"/>
<rect x="406.5" y="606.5" width="13" height="9" fill="#000" opacity="0.1" filter="url(#bl2)"/>
<rect x="442.5" y="605.5" width="13" height="9" fill="#000" opacity="0.11" filter="url(#bl2)"/>
<rect x="477.5" y="606.5" width="13" height="9" fill="#000" opacity="0.11" filter="url(#bl2)"/>
<rect x="493.5" y="607.5" width="13" height="9" fill="#000" opacity="0.05" filter="url(#bl2)"/>
<rect x="85.8" y="544.3" width="13.0" height="4.6" rx="3.6" ry="2.3" fill="#000" opacity="1" filter="url(#bl)"/>
<rect x="102.0" y="544.3" width="13.0" height="4.6" rx="3.6" ry="2.3" fill="#000" opacity="1" filter="url(#bl)"/>
<rect x="118.8" y="544.3" width="13.4" height="4.6" rx="3.8" ry="2.3" fill="#000" opacity="1" filter="url(#bl)"/>
<rect x="135.9" y="545.7" width="13.5" height="2.6" rx="3.8" ry="1.3" fill="#000" opacity="0.22" filter="url(#bl)"/>
<rect x="154.2" y="545.5" width="13.5" height="2.6" rx="3.8" ry="1.3" fill="#000" opacity="0.2" filter="url(#bl)"/>
<rect x="171.8" y="544.8" width="13.5" height="2.8" rx="3.8" ry="1.4" fill="#000" opacity="0.3" filter="url(#bl)"/>
<rect x="190.6" y="544.4" width="12.0" height="2.6" rx="3.4" ry="1.3" fill="#000" opacity="0.22" filter="url(#bl)"/>
<rect x="208.6" y="543.9" width="11.5" height="2.6" rx="3.2" ry="1.3" fill="#000" opacity="0.2" filter="url(#bl)"/>
<rect x="225.8" y="543.3" width="12.5" height="2.4" rx="3.5" ry="1.2" fill="#000" opacity="0.12" filter="url(#bl)"/>
<rect x="244.6" y="542.2" width="12.5" height="4.2" rx="3.5" ry="2.1" fill="#000" opacity="0.85" filter="url(#bl)"/>
<rect x="262.2" y="541.8" width="12.7" height="4.2" rx="3.6" ry="2.1" fill="#000" opacity="0.92" filter="url(#bl)"/>
<rect x="280.4" y="541.4" width="13.2" height="4.4" rx="3.7" ry="2.2" fill="#000" opacity="0.95" filter="url(#bl)"/>
<rect x="298.4" y="541.4" width="14.5" height="4.8" rx="4.1" ry="2.4" fill="#000" opacity="1" filter="url(#bl)"/>
<rect x="316.8" y="541.4" width="14.0" height="4.8" rx="3.9" ry="2.4" fill="#000" opacity="1" filter="url(#bl)"/>
<rect x="335.4" y="541.3" width="14.3" height="5.0" rx="4.0" ry="2.5" fill="#000" opacity="1" filter="url(#bl)"/>
<rect x="353.6" y="542.8" width="12.7" height="3.0" rx="3.6" ry="1.5" fill="#000" opacity="0.5" filter="url(#bl)"/>
<rect x="371.8" y="543.4" width="12.0" height="2.7" rx="3.4" ry="1.4" fill="#000" opacity="0.3" filter="url(#bl)"/>
<rect x="389.2" y="543.5" width="12.0" height="3.0" rx="3.4" ry="1.5" fill="#000" opacity="0.55" filter="url(#bl)"/>
<rect x="408.0" y="544.4" width="11.6" height="2.7" rx="3.2" ry="1.4" fill="#000" opacity="0.3" filter="url(#bl)"/>
<rect x="425.4" y="544.1" width="11.6" height="2.7" rx="3.2" ry="1.4" fill="#000" opacity="0.28" filter="url(#bl)"/>
<rect x="443.8" y="543.5" width="11.2" height="2.9" rx="3.1" ry="1.4" fill="#000" opacity="0.45" filter="url(#bl)"/>
<rect x="460.4" y="542.0" width="13.3" height="4.6" rx="3.7" ry="2.3" fill="#000" opacity="1" filter="url(#bl)"/>
<rect x="478.0" y="540.6" width="13.2" height="5.2" rx="3.7" ry="2.6" fill="#000" opacity="1" filter="url(#bl)"/>
<rect x="495.1" y="540.3" width="12.3" height="4.8" rx="3.4" ry="2.4" fill="#000" opacity="1" filter="url(#bl)"/>
<rect x="85.6" y="584.1" width="13.3" height="4.8" rx="3.7" ry="2.4" fill="#000" opacity="1" filter="url(#bl)"/>
<rect x="100.0" y="584.1" width="14.2" height="4.8" rx="4.0" ry="2.4" fill="#000" opacity="1" filter="url(#bl)"/>
<rect x="116.1" y="583.4" width="14.7" height="4.8" rx="4.1" ry="2.4" fill="#000" opacity="1" filter="url(#bl)"/>
<rect x="132.8" y="582.9" width="14.8" height="4.8" rx="4.1" ry="2.4" fill="#000" opacity="1" filter="url(#bl)"/>
<rect x="149.6" y="582.2" width="15.3" height="4.8" rx="4.3" ry="2.4" fill="#000" opacity="1" filter="url(#bl)"/>
<rect x="166.9" y="581.8" width="15.8" height="4.8" rx="4.4" ry="2.4" fill="#000" opacity="1" filter="url(#bl)"/>
<rect x="184.2" y="581.5" width="15.8" height="4.8" rx="4.4" ry="2.4" fill="#000" opacity="1" filter="url(#bl)"/>
<rect x="202.6" y="581.5" width="15.8" height="4.8" rx="4.4" ry="2.4" fill="#000" opacity="1" filter="url(#bl)"/>
<rect x="221.8" y="581.1" width="14.4" height="4.8" rx="4.0" ry="2.4" fill="#000" opacity="1" filter="url(#bl)"/>
<rect x="240.1" y="580.1" width="14.6" height="4.8" rx="4.1" ry="2.4" fill="#000" opacity="1" filter="url(#bl)"/>
<rect x="258.6" y="579.4" width="15.3" height="4.8" rx="4.3" ry="2.4" fill="#000" opacity="1" filter="url(#bl)"/>
<rect x="277.0" y="578.3" width="15.4" height="4.8" rx="4.3" ry="2.4" fill="#000" opacity="1" filter="url(#bl)"/>
<rect x="294.6" y="576.9" width="16.1" height="4.8" rx="4.5" ry="2.4" fill="#000" opacity="1" filter="url(#bl)"/>
<rect x="313.8" y="576.9" width="15.8" height="4.8" rx="4.4" ry="2.4" fill="#000" opacity="1" filter="url(#bl)"/>
<rect x="332.3" y="576.9" width="15.8" height="4.8" rx="4.4" ry="2.4" fill="#000" opacity="1" filter="url(#bl)"/>
<rect x="350.8" y="577.4" width="14.6" height="4.8" rx="4.1" ry="2.4" fill="#000" opacity="1" filter="url(#bl)"/>
<rect x="368.6" y="577.8" width="15.3" height="4.8" rx="4.3" ry="2.4" fill="#000" opacity="1" filter="url(#bl)"/>
<rect x="386.6" y="578.3" width="15.0" height="4.8" rx="4.2" ry="2.4" fill="#000" opacity="1" filter="url(#bl)"/>
<rect x="404.6" y="578.3" width="14.8" height="4.8" rx="4.1" ry="2.4" fill="#000" opacity="1" filter="url(#bl)"/>
<rect x="422.6" y="579.2" width="14.8" height="4.8" rx="4.1" ry="2.4" fill="#000" opacity="1" filter="url(#bl)"/>
<rect x="440.0" y="579.9" width="14.6" height="4.8" rx="4.1" ry="2.4" fill="#000" opacity="1" filter="url(#bl)"/>
<rect x="457.3" y="580.6" width="14.6" height="4.8" rx="4.1" ry="2.4" fill="#000" opacity="1" filter="url(#bl)"/>
<rect x="475.8" y="582.2" width="13.5" height="4.8" rx="3.8" ry="2.4" fill="#000" opacity="1" filter="url(#bl)"/>
<rect x="493.1" y="583.4" width="13.0" height="4.8" rx="3.6" ry="2.4" fill="#000" opacity="1" filter="url(#bl)"/>
<rect x="82.4" y="620.4" width="14.4" height="5.7" rx="4.0" ry="2.9" fill="#000" opacity="1" filter="url(#bl)"/>
<rect x="96.8" y="619.8" width="15.8" height="5.7" rx="4.4" ry="2.9" fill="#000" opacity="1" filter="url(#bl)"/>
<rect x="113.2" y="618.6" width="16.2" height="5.7" rx="4.5" ry="2.9" fill="#000" opacity="1" filter="url(#bl)"/>
<rect x="129.8" y="617.4" width="16.6" height="5.7" rx="4.6" ry="2.9" fill="#000" opacity="1" filter="url(#bl)"/>
<rect x="147.1" y="616.8" width="16.2" height="5.7" rx="4.5" ry="2.9" fill="#000" opacity="1" filter="url(#bl)"/>
<rect x="164.4" y="616.4" width="16.2" height="5.7" rx="4.5" ry="2.9" fill="#000" opacity="1" filter="url(#bl)"/>
<rect x="182.2" y="615.9" width="16.9" height="5.7" rx="4.7" ry="2.9" fill="#000" opacity="1" filter="url(#bl)"/>
<rect x="200.6" y="615.1" width="16.5" height="5.7" rx="4.6" ry="2.9" fill="#000" opacity="1" filter="url(#bl)"/>
<rect x="218.6" y="615.6" width="17.4" height="5.7" rx="4.9" ry="2.9" fill="#000" opacity="1" filter="url(#bl)"/>
<rect x="237.1" y="615.6" width="16.9" height="5.7" rx="4.7" ry="2.9" fill="#000" opacity="1" filter="url(#bl)"/>
<rect x="255.6" y="615.9" width="17.3" height="5.7" rx="4.8" ry="2.9" fill="#000" opacity="1" filter="url(#bl)"/>
<rect x="274.4" y="616.8" width="17.0" height="5.7" rx="4.8" ry="2.9" fill="#000" opacity="1" filter="url(#bl)"/>
<rect x="292.9" y="616.8" width="16.2" height="5.7" rx="4.5" ry="2.9" fill="#000" opacity="1" filter="url(#bl)"/>
<rect x="312.0" y="616.4" width="16.6" height="5.7" rx="4.6" ry="2.9" fill="#000" opacity="1" filter="url(#bl)"/>
<rect x="330.9" y="617.4" width="16.2" height="5.7" rx="4.5" ry="2.9" fill="#000" opacity="1" filter="url(#bl)"/>
<rect x="348.9" y="617.9" width="16.7" height="5.7" rx="4.7" ry="2.9" fill="#000" opacity="1" filter="url(#bl)"/>
<rect x="367.4" y="619.8" width="16.7" height="5.7" rx="4.7" ry="2.9" fill="#000" opacity="1" filter="url(#bl)"/>
<rect x="386.4" y="620.9" width="16.8" height="5.7" rx="4.7" ry="2.9" fill="#000" opacity="1" filter="url(#bl)"/>
<rect x="405.2" y="622.0" width="16.6" height="5.7" rx="4.6" ry="2.9" fill="#000" opacity="1" filter="url(#bl)"/>
<rect x="423.6" y="622.0" width="16.2" height="5.7" rx="4.5" ry="2.9" fill="#000" opacity="1" filter="url(#bl)"/>
<rect x="441.4" y="622.0" width="15.7" height="5.7" rx="4.4" ry="2.9" fill="#000" opacity="1" filter="url(#bl)"/>
<rect x="458.9" y="622.0" width="16.0" height="5.7" rx="4.5" ry="2.9" fill="#000" opacity="1" filter="url(#bl)"/>
<rect x="476.7" y="621.6" width="15.8" height="5.7" rx="4.4" ry="2.9" fill="#000" opacity="1" filter="url(#bl)"/>
<rect x="494.0" y="621.6" width="15.1" height="5.7" rx="4.2" ry="2.9" fill="#000" opacity="1" filter="url(#bl)"/>
</svg>
</body></html>
